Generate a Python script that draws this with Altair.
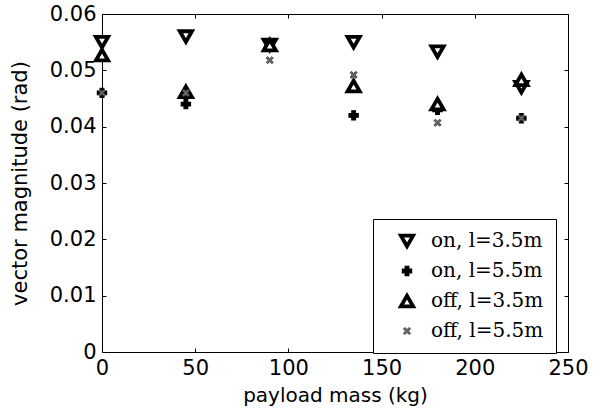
import altair as alt
import pandas as pd

# payload masses (kg)
mass = [0, 45, 90, 135, 180, 225]

# vector magnitude (rad) per configuration
on_35 = [0.0550, 0.0560, 0.0545, 0.0550, 0.0533, 0.0470]
on_55 = [0.0460, 0.0440, 0.0545, 0.0420, 0.0430, 0.0415]
off_35 = [0.0527, 0.0462, 0.0545, 0.0472, 0.0440, 0.0483]
off_55 = [0.0460, 0.0460, 0.0518, 0.0492, 0.0407, 0.0415]

series_names = ["on, l=3.5m", "on, l=5.5m", "off, l=3.5m", "off, l=5.5m"]
series_values = [on_35, on_55, off_35, off_55]

rows = []
for name, vals in zip(series_names, series_values):
    for m, v in zip(mass, vals):
        rows.append({"mass": m, "value": v, "series": name})
df = pd.DataFrame(rows)

xtick_values = [0, 50, 100, 150, 200, 250]
ytick_values = [0, 0.01, 0.02, 0.03, 0.04, 0.05, 0.06]

star_path = ("M-1,-0.6L-0.6,-1L0,-0.4L0.6,-1L1,-0.6L0.4,0L1,0.6L0.6,1"
             "L0,0.4L-0.6,1L-1,0.6L-0.4,0Z")
shapes = ["triangle-down", "cross", "triangle-up", star_path]
fills = ["white", "black", "white", "#6a6a6a"]
strokes = ["black", "black", "black", "#444444"]
sizes = [150, 85, 150, 50]
stroke_widths = [3.8, 1.2, 3.8, 1]

legend_cfg = dict(
    title=None,
    orient="none",
    legendX=271,
    legendY=205,
    labelFont="DejaVu Serif",
    labelFontSize=20,
    labelColor="black",
    labelOffset=14,
    symbolOffset=12,
    strokeColor="black",
    fillColor="white",
    padding=12,
    rowPadding=7,
    labelLimit=300,
)

x_scale = alt.Scale(domain=[0, 250], nice=False, zero=False)
y_scale = alt.Scale(domain=[0, 0.06], nice=False)

font = "DejaVu Sans"

points = alt.Chart(df).mark_point(filled=True, opacity=1).encode(
    x=alt.X("mass:Q", scale=x_scale,
            axis=alt.Axis(title="payload mass (kg)", values=xtick_values, format="d",
                          tickSize=0, labelPadding=5, labelFlush=False, domain=False,
                          grid=False, labelFont=font, labelFontSize=21, labelColor="black",
                          titleFont=font, titleFontSize=20, titleFontWeight="normal",
                          titleColor="black", titlePadding=7)),
    y=alt.Y("value:Q", scale=y_scale,
            axis=alt.Axis(title="vector magnitude (rad)", values=ytick_values, format=".2~f",
                          tickSize=0, labelPadding=6, labelFlush=False, domain=False,
                          grid=False, labelFont=font, labelFontSize=21, labelColor="black",
                          titleFont=font, titleFontSize=21, titleFontWeight="normal",
                          titleColor="black", titlePadding=19)),
    shape=alt.Shape("series:N", scale=alt.Scale(domain=series_names, range=shapes),
                    legend=alt.Legend(**legend_cfg)),
    fill=alt.Fill("series:N", scale=alt.Scale(domain=series_names, range=fills),
                  legend=alt.Legend(**legend_cfg)),
    stroke=alt.Stroke("series:N", scale=alt.Scale(domain=series_names, range=strokes),
                      legend=alt.Legend(**legend_cfg)),
    size=alt.Size("series:N",
                  scale=alt.Scale(type="ordinal", domain=series_names, range=sizes),
                  legend=alt.Legend(**legend_cfg)),
    strokeWidth=alt.StrokeWidth("series:N",
                                scale=alt.Scale(type="ordinal", domain=series_names,
                                                range=stroke_widths),
                                legend=alt.Legend(**legend_cfg)),
)

tick_axis = dict(labels=False, title=None, domain=False, grid=False,
                 tickSize=4, tickColor="black", tickWidth=1, offset=-4)

# inward ticks along bottom and left edges
inner_ticks = alt.Chart(df).mark_point(opacity=0).encode(
    x=alt.X("mass:Q", scale=x_scale,
            axis=alt.Axis(orient="bottom", values=xtick_values, **tick_axis)),
    y=alt.Y("value:Q", scale=y_scale,
            axis=alt.Axis(orient="left", values=ytick_values, **tick_axis)),
)

# inward ticks along top and right edges
outer_ticks = alt.Chart(df).mark_point(opacity=0).encode(
    x=alt.X("mass:Q", scale=x_scale,
            axis=alt.Axis(orient="top", values=xtick_values, **tick_axis)),
    y=alt.Y("value:Q", scale=y_scale,
            axis=alt.Axis(orient="right", values=ytick_values, **tick_axis)),
)

chart = alt.layer(points, inner_ticks, outer_ticks).resolve_axis(
    x="independent", y="independent"
).properties(
    width=466,
    height=338,
    autosize=alt.AutoSizeParams(type="none"),
    padding={"left": 102, "top": 14, "right": 35, "bottom": 58},
    background="white",
).configure_view(
    stroke="black", strokeWidth=1
)

chart.save("out.html", embed_options={"renderer": "svg", "actions": False})
